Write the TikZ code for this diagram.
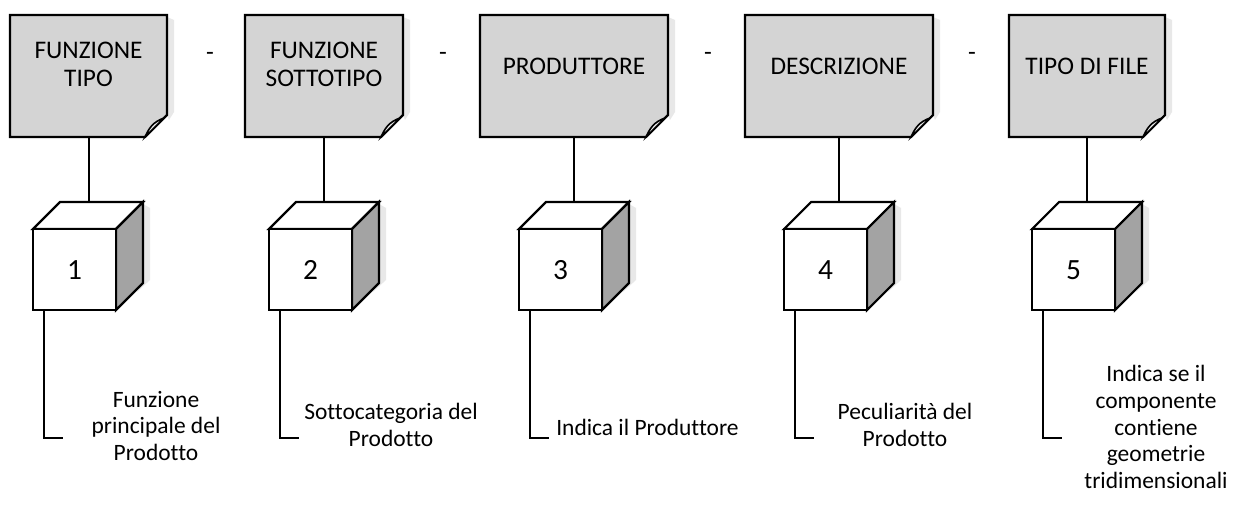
\documentclass[tikz,border=0pt]{standalone}
\usepackage{fontspec}
\setmainfont{Carlito}[Ligatures=NoCommon]
\begin{document}
\begin{tikzpicture}[x=0.75pt,y=-0.75pt,
  outline/.style={draw=black,line width=1.6pt,line join=miter},
  notefill/.style={fill=black!17},
  sidefill/.style={fill=black!36},
  shade/.style={fill=black!9},
  wire/.style={draw=black,line width=1.5pt},
  notetext/.style={font=\fontsize{19}{21}\selectfont,align=center,inner sep=0pt},
  numtext/.style={font=\fontsize{22}{24}\selectfont,inner sep=0pt},
  labeltext/.style={font=\fontsize{17.6}{20}\selectfont,align=center,inner sep=0pt},
  dashtext/.style={font=\fontsize{19}{21}\selectfont,inner sep=0pt}]
\useasboundingbox (0,0) rectangle (1242,520);
\fill[white] (0,0) rectangle (1242,520);

% note macro: name, left, right, text, text y
\newcommand\notebox[5]{%
  \path[shade] (#3,17) -- ({#3+7},20) -- ({#3+7},112) -- ({#3+2},120) -- (#3,115) -- cycle;
  \path[outline,notefill] (#2,15) -- (#3,15) -- (#3,115) -- ({#3-22},137) -- (#2,137) -- cycle;
  \path[draw=black,line width=1.2pt,fill=black!8] ({#3-22},137) .. controls ({#3-18},128) and ({#3-14},122) .. ({#3-3},118) -- (#3,115) -- cycle;
  \node[notetext] (#1) at ({(#2+#3)/2},#5) {#4};
  \coordinate (#1b) at ({(#2+#3)/2},137);
}
% cube macro: name, front-left x, number, top connection x
\newcommand\cubebox[4]{%
  \path[shade] ({#2+110},204) -- ({#2+117},208) -- ({#2+117},280) -- ({#2+104},292) -- ({#2+110},283) -- cycle;
  \path[outline,fill=white] (#2,229) -- ({#2+27},202) -- ({#2+110},202) -- ({#2+83},229) -- cycle;
  \path[outline,sidefill] ({#2+83},229) -- ({#2+110},202) -- ({#2+110},283) -- ({#2+83},310) -- cycle;
  \path[outline,fill=white] (#2,229) rectangle ({#2+83},310);
  \node[numtext] (#1) at ({#2+41.5},270) {#3};
  \coordinate (#1t) at (#4,202);
  \coordinate (#1b) at ({#2+11},310);
  \coordinate (#1e) at ({#2+30},438);
}

\notebox{n1}{10}{167}{FUNZIONE\\TIPO}{64}
\notebox{n2}{245}{403}{FUNZIONE\\SOTTOTIPO}{64}
\notebox{n3}{480}{668}{PRODUTTORE}{66}
\notebox{n4}{745}{933}{DESCRIZIONE}{66}
\notebox{n5}{1009}{1165}{TIPO DI FILE}{66}

\node[dashtext] (d1) at (210,56) {-};
\node[dashtext] (d2) at (443,56) {-};
\node[dashtext] (d3) at (708,56) {-};
\node[dashtext] (d4) at (972,56) {-};

\cubebox{c1}{33}{1}{88.5}
\cubebox{c2}{269}{2}{324}
\cubebox{c3}{519}{3}{574}
\cubebox{c4}{784}{4}{839}
\cubebox{c5}{1032}{5}{1087}

\foreach \i in {1,...,5}{
  \draw[wire] (n\i b) -- (c\i t);
  \draw[wire] (c\i b) |- (c\i e);
}

\node[labeltext] (l1) at (156,426) {Funzione\\principale del\\Prodotto};
\node[labeltext] (l2) at (391,425) {Sottocategoria del\\Prodotto};
\node[labeltext,anchor=west] (l3) at (556,427) {Indica il Produttore};
\node[labeltext] (l4) at (905,425) {Peculiarità del\\Prodotto};
\node[labeltext] (l5) at (1156,427) {Indica se il\\componente\\contiene\\geometrie\\tridimensionali};
\end{tikzpicture}
\end{document}
